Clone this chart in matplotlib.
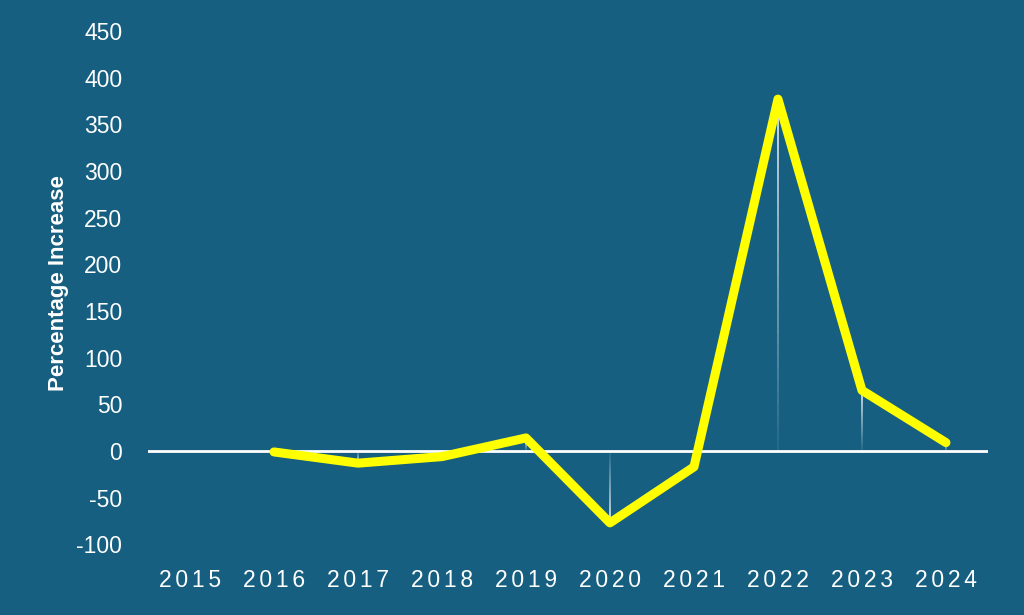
import matplotlib.pyplot as plt
import numpy as np
from matplotlib.collections import LineCollection

BG = "#165f80"
YELLOW = "#ffff00"

years = [2015, 2016, 2017, 2018, 2019, 2020, 2021, 2022, 2023, 2024]
line_years = [2016, 2017, 2018, 2019, 2020, 2021, 2022, 2023, 2024]
pct_increase = [-1, -13, -6, 14, -77, -17, 377, 65, 9]
y_ticks = [-100, -50, 0, 50, 100, 150, 200, 250, 300, 350, 400, 450]


def spaced(text: str) -> str:
    return "\u2006".join(text)


def drop_lines(ax, xs, ys, steps: int = 30) -> None:
    # fading white lines from zero up (or down) to each point
    segs = []
    colors = []
    for x, y in zip(xs, ys):
        edges = np.linspace(0, y, steps + 1)
        for i in range(steps):
            segs.append([(x, edges[i]), (x, edges[i + 1])])
            a = 0.05 + 0.8 * (i + 1) / steps
            colors.append((1, 1, 1, a))
    ax.add_collection(LineCollection(segs, colors=colors, linewidths=1.3, zorder=2))


fig = plt.figure(figsize=(10.24, 6.15), dpi=100, facecolor=BG)
ax = fig.add_axes([0.1445, 0.0997, 0.8203, 0.8803])
ax.set_facecolor(BG)

ax.axhline(0, color="white", linewidth=2, zorder=1)
drop_lines(ax, line_years, pct_increase)
ax.plot(
    line_years,
    pct_increase,
    color=YELLOW,
    linewidth=6.5,
    solid_capstyle="round",
    solid_joinstyle="round",
    zorder=3,
)

ax.set_xlim(2014.5, 2024.5)
ax.set_ylim(-110, 470)
ax.set_xticks(years)
ax.set_xticklabels([spaced(str(y)) for y in years], fontsize=16.5, color="white",
                   family=["Liberation Sans", "DejaVu Sans"])
ax.set_yticks(y_ticks)
ax.set_yticklabels([str(v) for v in y_ticks], fontsize=16.5, color="white",
                   family="Liberation Sans")
ax.tick_params(axis="x", length=0, pad=11)
ax.tick_params(axis="y", length=0, pad=18.5)
for side in ax.spines.values():
    side.set_visible(False)

ax.set_ylabel("Percentage Increase", fontsize=16, fontweight="bold", color="white",
              family="Liberation Sans")
ax.yaxis.set_label_coords(-0.094, 0.5)

fig.savefig("out.png", dpi=100, facecolor=BG)
